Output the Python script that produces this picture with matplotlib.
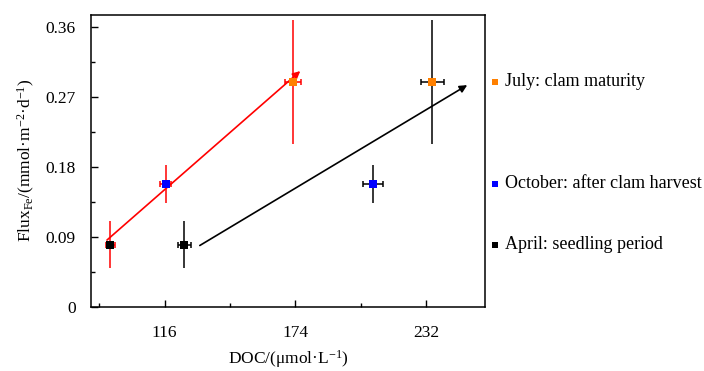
import matplotlib
matplotlib.use("Agg")
import matplotlib.pyplot as plt
from matplotlib.ticker import FixedLocator

plt.rcParams["font.family"] = ["Liberation Serif", "DejaVu Serif"]
plt.rcParams["mathtext.fontset"] = "custom"
plt.rcParams["mathtext.rm"] = "Liberation Serif"
plt.rcParams["mathtext.it"] = "Liberation Serif:italic"

# Season order: April, October, July
seasons = ["April: seedling period", "October: after clam harvest", "July: clam maturity"]
season_colors = ["#000000", "#0000ff", "#ff8000"]

# Series drawn with red error bars
red_doc = [91.8, 116.5, 173.0]
red_doc_err = [2.0, 2.4, 3.7]
red_flux = [0.080, 0.158, 0.289]
red_flux_err = [0.030, 0.025, 0.080]

# Series drawn with black error bars
black_doc = [124.8, 208.5, 234.8]
black_doc_err = [2.7, 4.3, 5.0]
black_flux = [0.080, 0.158, 0.289]
black_flux_err = [0.030, 0.025, 0.080]

# Trend arrows (start DOC, start flux, end DOC, end flux)
red_arrow = [90.4, 0.086, 176.2, 0.303]
black_arrow = [131.6, 0.079, 250.3, 0.285]

x_major = [116, 174, 232]
x_minor = [87, 145, 203]
y_major = [0, 0.09, 0.18, 0.27, 0.36]
y_major_labels = ["0", "0.09", "0.18", "0.27", "0.36"]
y_minor = [0.045, 0.135, 0.225, 0.315]

fig = plt.figure(figsize=(7.04, 3.71), dpi=100)
ax = fig.add_axes([91 / 704, 1 - 307 / 371, (485 - 91) / 704, (307 - 14.5) / 371])

fs_tick = 12.5
fs_label = 12.5
fs_key = 13

# trend arrows
for arr, col in [(red_arrow, "red"), (black_arrow, "black")]:
    ax.annotate("", xy=(arr[2], arr[3]), xytext=(arr[0], arr[1]),
                arrowprops=dict(arrowstyle="-|>", color=col, lw=1.2,
                                mutation_scale=11, shrinkA=0, shrinkB=0))

for xs, xe, ys, ye, ecol in [(red_doc, red_doc_err, red_flux, red_flux_err, "red"),
                              (black_doc, black_doc_err, black_flux, black_flux_err, "black")]:
    ax.errorbar(xs, ys, yerr=ye, fmt="none", ecolor=ecol, elinewidth=1.1, capsize=0, zorder=3)
    ax.errorbar(xs, ys, xerr=xe, fmt="none", ecolor=ecol, elinewidth=1.1, capsize=2.5,
                capthick=1.1, zorder=3)
    for x, y, c in zip(xs, ys, season_colors):
        ax.plot(x, y, "s", color=c, markersize=6, markeredgewidth=0, zorder=4)

ax.set_xlim(83.3, 258.2)
ax.set_ylim(0, 0.3757)

ax.xaxis.set_major_locator(FixedLocator(x_major))
ax.xaxis.set_minor_locator(FixedLocator(x_minor))
ax.yaxis.set_major_locator(FixedLocator(y_major))
ax.yaxis.set_minor_locator(FixedLocator(y_minor))
ax.set_yticklabels(y_major_labels)
ax.tick_params(which="both", direction="in", top=False, right=False, width=1.0)
ax.tick_params(which="major", length=5)
ax.tick_params(which="minor", length=3)
ax.tick_params(axis="x", which="major", pad=13, labelsize=fs_tick)
ax.tick_params(axis="y", which="major", pad=11, labelsize=fs_tick)
for s in ax.spines.values():
    s.set_linewidth(1.1)

ax.set_xlabel("DOC/(μmol·L$^{-1}$)", fontsize=fs_label, labelpad=5)
ax.set_ylabel("Flux$_{\\mathrm{Fe}}$/(mmol·m$^{-2}$·d$^{-1}$)", fontsize=fs_label, labelpad=6)

# season key placed beside each flux level
for name, c, y in zip(seasons, season_colors, red_flux):
    ax.plot(258.2 + 10 / 2.253, y, "s", color=c, markersize=5, markeredgewidth=0,
            clip_on=False)
    ax.text(258.2 + 20 / 2.253, y, name, fontsize=fs_key, va="center", ha="left")

fig.savefig("out.png", dpi=100)
